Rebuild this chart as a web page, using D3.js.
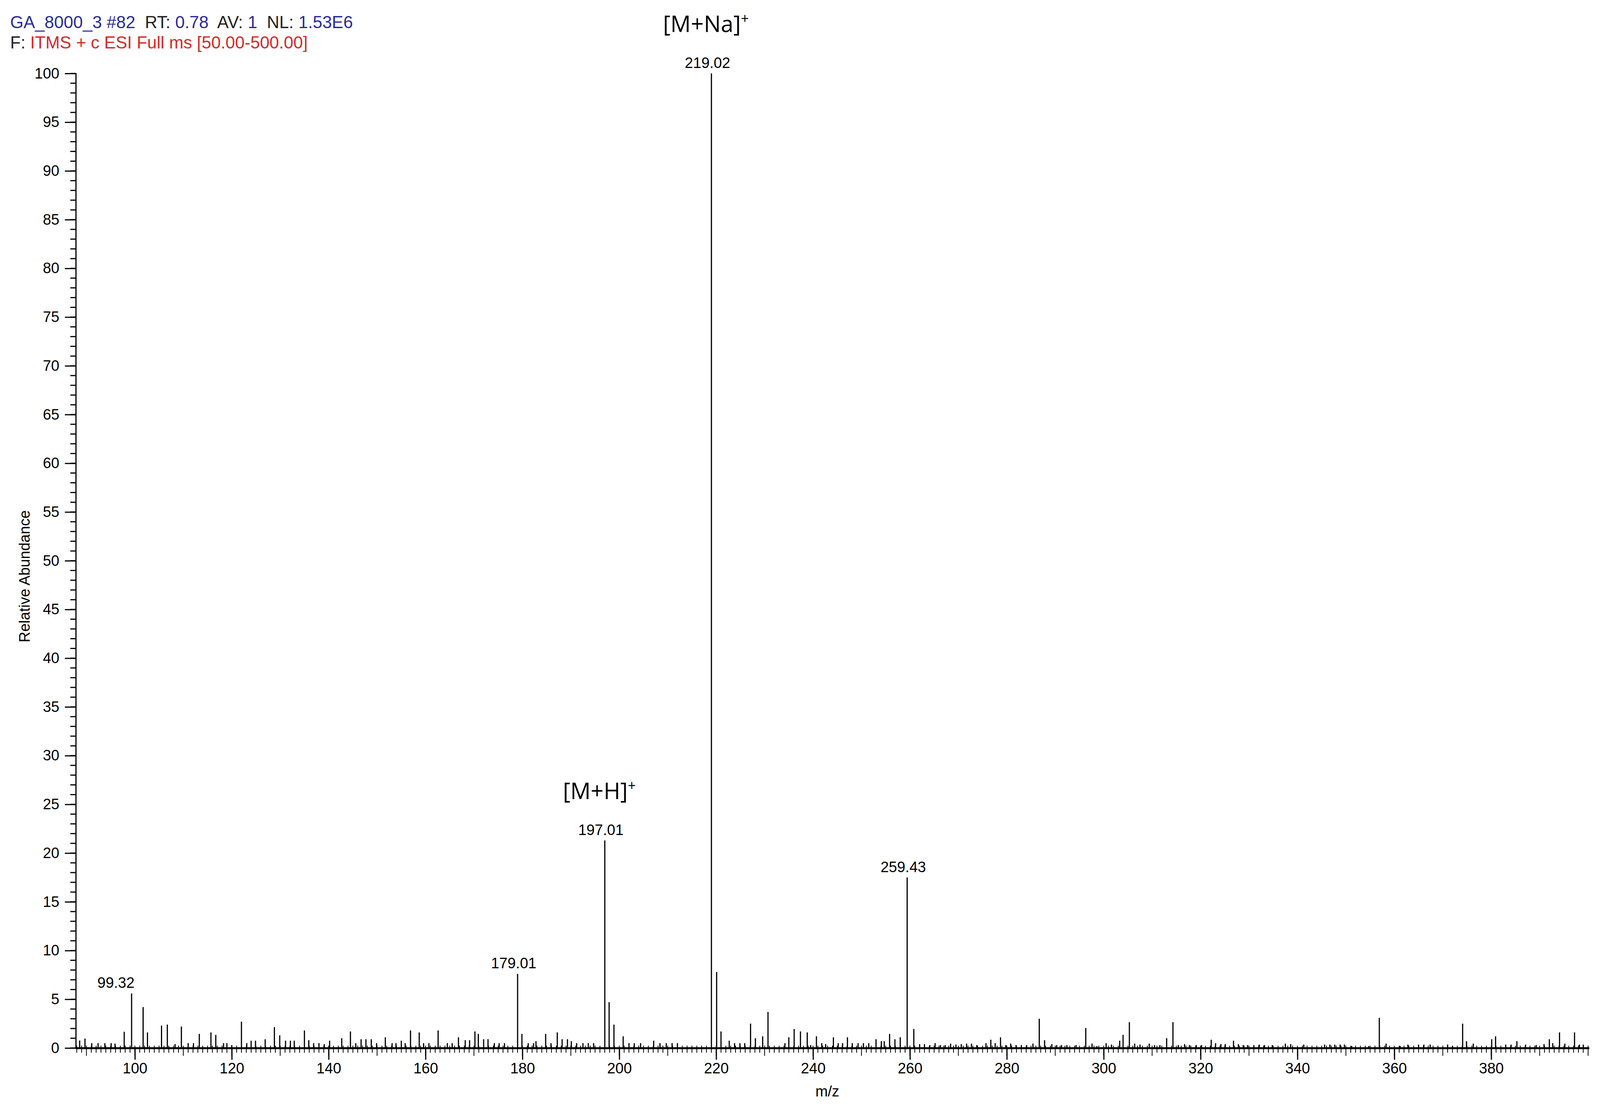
<!DOCTYPE html>
<html>
<head>
<meta charset="utf-8">
<script src="https://cdn.jsdelivr.net/npm/d3@7"></script>
<style>
  body { margin: 0; background: #fff; }
  text { font-family: "Liberation Sans", Arial, sans-serif; }
</style>
</head>
<body>
<svg></svg>
<script>
// peak list: m/z and relative abundance (%)
const mz = [88.6,89.7,91.1,92.4,93.8,95.1,95.9,97.8,99.32,101.7,102.6,105.5,106.7,108.3,109.6,111.0,112.1,113.3,115.7,116.7,118.3,119.0,120.0,122.0,123.1,124.0,124.9,126.9,128.8,129.9,131.1,132.1,132.9,135.0,135.9,136.9,138.0,139.1,140.2,142.7,144.5,145.6,146.7,147.7,148.8,149.9,151.7,153.1,153.9,155.0,155.8,156.9,158.7,159.6,160.7,162.6,164.5,165.5,166.8,168.2,169.1,170.2,170.9,172.0,172.9,174.2,175.2,176.3,179.01,179.9,181.2,182.3,182.8,184.8,185.9,187.2,188.2,189.3,190.1,191.2,192.5,193.6,194.7,197.01,197.9,198.9,200.8,202.0,203.1,204.4,207.1,208.4,209.7,210.9,212.0,219.02,220.1,221.0,222.7,223.8,224.9,225.9,227.1,228.1,229.6,230.7,
  234.2,235.0,236.1,237.4,238.8,239.5,240.7,241.8,242.6,244.2,245.2,246.1,247.1,248.1,249.3,250.4,251.5,253.0,254.1,254.7,255.8,256.9,258.0,259.43,260.8,262.0,263.0,264.1,265.2,266.3,267.3,268.4,269.5,270.6,271.7,272.7,273.8,275.7,276.7,277.6,278.7,279.8,280.8,281.9,283.0,284.1,285.4,286.7,287.8,289.3,290.3,291.3,292.4,294.3,296.3,297.6,298.6,300.5,301.6,303.3,304.0,305.3,306.4,307.5,309.4,310.5,311.6,313.0,314.3,315.4,316.7,317.7,319.1,320.2,322.2,323.1,324.2,325.1,326.8,327.8,328.8,329.7,331.0,332.1,333.2,334.8,337.5,338.6,341.3,345.6,346.7,347.7,348.8,349.7,351.2,354.7,356.9,358.3,361.2,362.8,365.0,366.1,367.4,371.0,372.0,374.1,374.9,376.3,380.1,380.9,383.0,384.1,385.3,387.1,389.3,390.9,392.0,392.7,394.1,395.2,397.2,398.2,399.0]
const abundance = [0.77,0.97,0.5,0.5,0.5,0.5,0.45,1.67,5.6,4.2,1.6,2.3,2.4,0.4,2.2,0.5,0.5,1.45,1.6,1.35,0.5,0.5,0.3,2.7,0.5,0.75,0.75,0.9,2.15,1.3,0.75,0.75,0.75,1.8,0.8,0.5,0.5,0.4,0.75,1.0,1.7,0.5,0.9,0.9,0.9,0.5,1.1,0.5,0.5,0.75,0.5,1.8,1.6,0.5,0.5,1.8,0.5,0.5,1.1,0.8,0.8,1.7,1.45,0.9,0.9,0.5,0.5,0.5,7.6,1.45,0.5,0.5,0.7,1.45,0.5,1.6,0.9,0.9,0.7,0.5,0.5,0.5,0.5,21.3,4.7,2.4,1.2,0.5,0.5,0.5,0.75,0.5,0.5,0.5,0.5,100,7.8,1.7,0.75,0.5,0.5,0.5,2.5,1.0,1.2,3.7,
  0.5,1.1,1.95,1.7,1.6,0.3,1.2,0.5,0.4,1.1,0.5,0.5,1.1,0.5,0.5,0.5,0.5,0.9,0.7,0.7,1.45,0.9,1.1,17.5,1.95,0.4,0.4,0.3,0.5,0.3,0.3,0.45,0.35,0.4,0.45,0.45,0.3,0.5,0.85,0.5,1.1,0.3,0.45,0.3,0.3,0.3,0.45,3.0,0.8,0.4,0.3,0.3,0.3,0.3,2.05,0.45,0.2,0.5,0.35,0.75,1.35,2.65,0.45,0.35,0.45,0.3,0.3,1.0,2.65,0.3,0.4,0.3,0.3,0.3,0.85,0.5,0.4,0.4,0.75,0.4,0.3,0.3,0.3,0.35,0.3,0.3,0.45,0.4,0.35,0.35,0.35,0.35,0.35,0.35,0.2,0.2,3.1,0.45,0.2,0.35,0.35,0.35,0.35,0.35,0.2,2.5,0.7,0.45,0.9,1.2,0.35,0.35,0.7,0.35,0.3,0.4,0.9,0.5,1.6,0.45,1.6,0.35,0.35]

const labelled = ['99.32', '179.01', '197.01', '219.02', '259.43']
const ions = [{text: '[M+Na]', at: '219.02'}, {text: '[M+H]', at: '197.01'}]
const xTickLabels = d3.range(100, 381, 20)
const yTickLabels = d3.range(0, 101, 5)

const W = 4099, H = 2833
const mLeft = 194, mRight = 4068, mTop = 188, mBottom = 2682

const svg = d3.select('svg').attr('width', W).attr('height', H)

const x = d3.scaleLinear().domain([87.8, 400.2]).range([mLeft, mRight])
const y = d3.scaleLinear().domain([0, 100]).range([mBottom, mTop])

// header
const h1 = svg.append('text').attr('x', 26).attr('y', 72).attr('font-size', 44)
;[['GA_8000_3 #82', '#2b2b9c'], ['  RT: ', '#222'], ['0.78', '#2b2b9c'], ['  AV: ', '#222'], ['1', '#2b2b9c'], ['  NL: ', '#222'], ['1.53E6', '#2b2b9c']]
  .forEach(([t, c]) => h1.append('tspan').attr('fill', c).attr('xml:space', 'preserve').text(t))
const h2 = svg.append('text').attr('x', 26).attr('y', 124).attr('font-size', 44)
h2.append('tspan').attr('fill', '#222').text('F: ')
h2.append('tspan').attr('fill', '#d42a2a').text('ITMS + c ESI Full ms [50.00-500.00]')

// y axis
const yAxis = svg.append('g').attr('transform', `translate(${mLeft},0)`)
  .call(d3.axisLeft(y).tickValues(yTickLabels).tickSize(28).tickPadding(14))
yAxis.append('g').selectAll('line').data(d3.range(0, 101, 1)).enter().append('line')
  .attr('x1', -14).attr('x2', 0).attr('y1', d => y(d)).attr('y2', d => y(d))
  .attr('stroke', '#000').attr('stroke-width', 3)
yAxis.selectAll('text').attr('font-size', 38).attr('font-family', 'Liberation Sans')
yAxis.selectAll('line, path').attr('stroke-width', 3)

// x axis
const xAxis = svg.append('g').attr('transform', `translate(0,${mBottom})`)
  .call(d3.axisBottom(x).tickValues(xTickLabels).tickSize(30).tickPadding(8).tickSizeOuter(0))
xAxis.append('g').selectAll('line').data(d3.range(88, 401, 1)).enter().append('line')
  .attr('x1', d => x(d)).attr('x2', d => x(d)).attr('y1', -6)
  .attr('y2', d => d % 10 === 0 ? 20 : 12)
  .attr('stroke', '#000').attr('stroke-width', 2)
xAxis.selectAll('text').attr('font-size', 38).attr('font-family', 'Liberation Sans')
xAxis.select('.domain').attr('stroke-width', 5)
xAxis.selectAll('.tick line').attr('stroke-width', 3)

// peaks
svg.append('g').selectAll('line').data(mz).enter().append('line')
  .attr('x1', d => x(d)).attr('x2', d => x(d))
  .attr('y1', y(0)).attr('y2', (d, i) => y(abundance[i]))
  .attr('stroke', '#000').attr('stroke-width', 3)

// peak labels
svg.append('g').selectAll('text').data(labelled).enter().append('text')
  .attr('x', d => x(+d) + (d === '99.32' ? -40 : -10))
  .attr('y', d => y(abundance[mz.indexOf(+d)]) - 14)
  .attr('text-anchor', 'middle').attr('font-size', 38).text(d => d)

// ion annotations
const ann = svg.append('g').selectAll('text').data(ions).enter().append('text')
  .attr('x', d => x(+d.at) - 14)
  .attr('y', d => y(abundance[mz.indexOf(+d.at)]) - 106)
  .attr('text-anchor', 'middle').attr('font-size', 58)
  .style('font-family', '"Open Sans", sans-serif')
ann.append('tspan').text(d => d.text)
ann.append('tspan').attr('dy', -22).attr('font-size', 36).text('+')

// axis titles
svg.append('text').attr('transform', `translate(76,${(mTop + mBottom) / 2 + 40}) rotate(-90)`)
  .attr('text-anchor', 'middle').attr('font-size', 38).text('Relative Abundance')
svg.append('text').attr('x', 2118).attr('y', 2806)
  .attr('text-anchor', 'middle').attr('font-size', 38).text('m/z')
</script>
</body>
</html>
